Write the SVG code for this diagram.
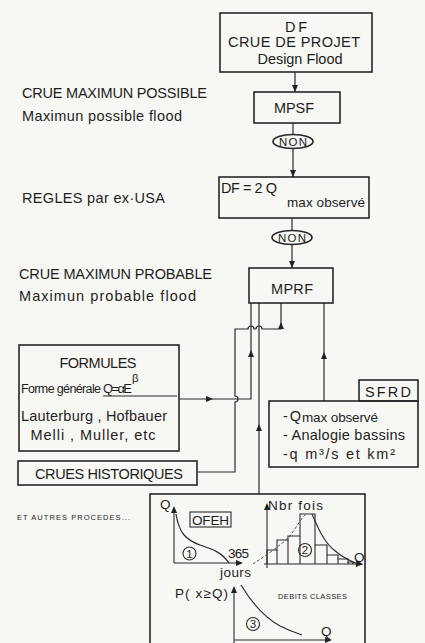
<svg xmlns="http://www.w3.org/2000/svg" xmlns:xlink="http://www.w3.org/1999/xlink" width="425" height="643" viewBox="0 0 425 643">
<style>
.bg{fill:#f7f7f4}
.box{fill:none;stroke:#262626;stroke-width:1.6}
.ln{fill:none;stroke:#2b2b2b;stroke-width:1.2}
.thin{fill:none;stroke:#2b2b2b;stroke-width:1.1}
.dash{fill:none;stroke:#555;stroke-width:1;stroke-dasharray:3 2}
.t{font-family:"Liberation Sans","DejaVu Sans",sans-serif;fill:#1e1e1e;font-size:14.5px}
.s{font-size:13.5px}
.xs{font-size:7.5px}
.n{font-size:11.5px}
.m{text-anchor:middle}
.ah{fill:#222}
</style>
<defs>
<path id="arr" d="M0,0 L-7,-3 L-7,3 Z"/>
</defs>
<rect class="bg" x="0" y="0" width="425" height="643"/>

<g id="connectors">
<line class="ln" x1="295" y1="72" x2="295" y2="92"/>
<use href="#arr" class="ah" transform="translate(295,92) rotate(90)"/>
<line class="ln" x1="293" y1="123" x2="293" y2="135"/>
<line class="ln" x1="293" y1="148" x2="293" y2="177"/>
<use href="#arr" class="ah" transform="translate(293,177) rotate(90)"/>
<line class="ln" x1="292" y1="218" x2="292" y2="231"/>
<line class="ln" x1="292" y1="244" x2="292" y2="268"/>
<use href="#arr" class="ah" transform="translate(292,268) rotate(90)"/>
<path class="ln" d="M197,472 H235 V402 A3,3 0 0 0 235,396 V329 H248 A3,3 0 0 1 254,329 H256 A3,3 0 0 1 262,329 H281 V303"/>
<use href="#arr" class="ah" transform="translate(281,322) rotate(-90)"/>
<path class="ln" d="M179,399 H251 V303"/>
<use href="#arr" class="ah" transform="translate(213,399)"/>
<use href="#arr" class="ah" transform="translate(251,350) rotate(-90)"/>
<line class="ln" x1="259" y1="494" x2="259" y2="303"/>
<use href="#arr" class="ah" transform="translate(259,424) rotate(-90)"/>
<line class="ln" x1="324" y1="401" x2="324" y2="303"/>
<use href="#arr" class="ah" transform="translate(324,352) rotate(-90)"/>
</g>

<g id="df">
<rect class="box" x="220" y="13" width="152" height="59"/>
<text class="t m" x="296" y="32" textLength="22">D F</text>
<text class="t m" x="294" y="47" textLength="132">CRUE DE PROJET</text>
<text class="t m" x="300" y="64" textLength="85">Design Flood</text>
</g>

<g id="mpsf">
<rect class="box" x="254" y="92" width="86" height="31"/>
<text class="t m" x="294" y="113" textLength="40">MPSF</text>
</g>

<g id="non1">
<ellipse class="box" cx="293" cy="141.5" rx="20" ry="7"/>
<text class="t n m" x="293" y="145.5" textLength="28">NON</text>
</g>

<g id="df2q">
<rect class="box" x="219" y="177" width="150" height="41"/>
<text class="t" x="221" y="193" textLength="56">DF = 2 Q</text>
<text class="t s" x="287" y="207" textLength="78">max observé</text>
</g>

<g id="non2">
<ellipse class="box" cx="292" cy="237.5" rx="20" ry="7"/>
<text class="t n m" x="292" y="241.5" textLength="28">NON</text>
</g>

<g id="mprf">
<rect class="box" x="249" y="268" width="84" height="35"/>
<text class="t m" x="292" y="294" textLength="42">MPRF</text>
</g>

<g id="labels">
<text class="t" x="22" y="98" textLength="185">CRUE MAXIMUN POSSIBLE</text>
<text class="t" x="22" y="121" textLength="160">Maximun possible flood</text>
<text class="t" x="22" y="203" textLength="143">REGLES par ex·USA</text>
<text class="t" x="19" y="279" textLength="193">CRUE MAXIMUN PROBABLE</text>
<text class="t" x="19" y="301" textLength="177">Maximun probable flood</text>
<text class="t xs" x="17" y="520" textLength="113">ET AUTRES PROCEDES...</text>
</g>

<g id="formules">
<rect class="box" x="19" y="345" width="160" height="106"/>
<text class="t m" x="98" y="368" textLength="77">FORMULES</text>
<text class="t" x="21" y="393" style="font-size:12.5px" textLength="80">Forme générale</text>
<text class="t" x="103" y="393" style="font-size:13px" textLength="29">Q=αE</text>
<text class="t" x="132" y="382" style="font-size:11.5px">β</text>
<line class="thin" x1="103" y1="396" x2="177" y2="396"/>
<text class="t m" x="94" y="421" textLength="146">Lauterburg , Hofbauer</text>
<text class="t m" x="93" y="440" textLength="125">Melli , Muller, etc</text>
</g>

<g id="crues">
<rect class="box" x="18" y="461" width="179" height="24"/>
<text class="t" x="35" y="479" textLength="148">CRUES HISTORIQUES</text>
</g>

<g id="sfrd">
<rect class="box" x="359" y="380" width="59" height="21"/>
<rect class="box" x="269" y="401" width="149" height="66"/>
<text class="t m" x="388" y="397" textLength="46">SFRD</text>
<text class="t" x="283" y="421" textLength="18">- Q</text>
<text class="t s" x="302" y="422" textLength="76">max observé</text>
<text class="t" x="283" y="440" textLength="122">- Analogie bassins</text>
<text class="t" x="283" y="459" textLength="112">-q  m³/s  et  km²</text>
</g>

<g id="ofeh">
<rect class="box" x="150" y="494" width="215" height="160"/>
<line class="thin" x1="174" y1="563" x2="174" y2="508"/>
<use href="#arr" class="ah" transform="translate(174,506) rotate(-90)"/>
<line class="thin" x1="174" y1="563" x2="240" y2="563"/>
<use href="#arr" class="ah" transform="translate(243,563)"/>
<path class="ln" d="M176,514 C179,533 186,540 200,545 C215,550 222,553 229,563"/>
<text class="t s" x="160" y="509">Q</text>
<rect class="thin" x="190" y="512" width="41" height="15"/>
<text class="t s m" x="210.5" y="525" textLength="37">OFEH</text>
<circle class="thin" cx="189.5" cy="553.5" r="6.5"/>
<text class="t n m" x="189.5" y="557.5">1</text>
<text class="t s" x="228" y="558" textLength="21">365</text>
<text class="t s" x="220" y="577" textLength="31">jours</text>
<line class="thin" x1="267" y1="568" x2="267" y2="505"/>
<use href="#arr" class="ah" transform="translate(267,503) rotate(-90)"/>
<line class="thin" x1="264" y1="564" x2="360" y2="564"/>
<use href="#arr" class="ah" transform="translate(363,564)"/>
<path class="thin" d="M267,564 V550 H277 V540 H288 V536 H300 V514 H315 V545 H327 V555 H338 V559 H348 V562 H353 V564"/>
<line class="thin" x1="277" y1="550" x2="277" y2="564"/>
<line class="thin" x1="288" y1="540" x2="288" y2="564"/>
<line class="thin" x1="300" y1="536" x2="300" y2="564"/>
<line class="thin" x1="315" y1="545" x2="315" y2="564"/>
<line class="thin" x1="327" y1="555" x2="327" y2="564"/>
<line class="thin" x1="338" y1="559" x2="338" y2="564"/>
<line class="thin" x1="348" y1="562" x2="348" y2="564"/>
<path class="dash" d="M253,564 C265,556 280,546 290,536 C296,528 300,520 306,514"/>
<path class="thin" d="M312,514 C318,528 324,542 334,550 C342,557 350,561 358,564"/>
<circle class="thin" cx="305" cy="550" r="6.5" fill="#f7f7f4"/>
<text class="t n m" x="305" y="554">2</text>
<text class="t s" x="268" y="510" textLength="55">Nbr fois</text>
<text class="t s" x="354" y="562">Q</text>
<line class="thin" x1="234" y1="650" x2="234" y2="588"/>
<use href="#arr" class="ah" transform="translate(234,586) rotate(-90)"/>
<line class="thin" x1="234" y1="640" x2="329" y2="640"/>
<use href="#arr" class="ah" transform="translate(332,640)"/>
<path class="ln" d="M241,585 C250,600 262,616 280,626 C290,631 296,633 302,635"/>
<text class="t s" x="175" y="598" textLength="53">P( x≥Q)</text>
<circle class="thin" cx="253" cy="624" r="6.5"/>
<text class="t n m" x="253" y="628">3</text>
<text class="t xs" x="278" y="599" textLength="69">DEBITS CLASSES</text>
<text class="t s" x="321" y="636">Q</text>
</g>
</svg>
